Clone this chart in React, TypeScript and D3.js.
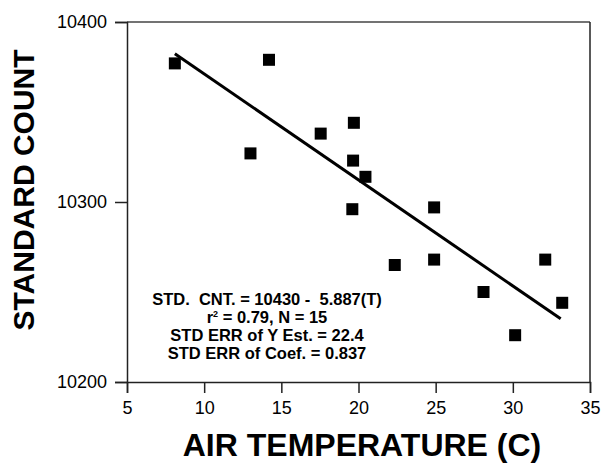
import React, { useEffect, useRef } from "react";
import * as d3 from "d3";

// air temperature (C) and standard count
const temps = [8.1, 13.0, 14.2, 17.55, 19.7, 19.65, 20.45, 19.6, 22.35, 24.9, 24.9, 28.1, 30.15, 32.1, 33.2];
const counts = [10377, 10327, 10379, 10338, 10344, 10323, 10314, 10296, 10265, 10297, 10268, 10250, 10226, 10268, 10244];

const fitIntercept = 10430;
const fitSlope = -5.887;
const fitRange = [8.1, 33.1];

const xTicks = [5, 10, 15, 20, 25, 30, 35];
const yTicks = [10200, 10300, 10400];

const statLines = [
  "STD.  CNT. = 10430 -  5.887(T)",
  "r2 = 0.79, N = 15",
  "STD ERR of Y Est. = 22.4",
  "STD ERR of Coef. = 0.837",
];

const font = "'Liberation Sans', Arial, sans-serif";

const Axis = ({ scale, orient, transform, ticks }: any) => {
  const ref = useRef<SVGGElement>(null);
  useEffect(() => {
    const gen =
      orient === "bottom"
        ? d3.axisBottom(scale).tickValues(ticks).tickFormat(d3.format("d")).tickSizeOuter(0).tickSize(11).tickPadding(8)
        : d3.axisLeft(scale).tickValues(ticks).tickFormat(d3.format("d")).tickSizeOuter(0).tickSize(12).tickPadding(8);
    const g = d3.select(ref.current).call(gen as any);
    g.select(".domain").attr("stroke-width", 1.5).attr("stroke", "#222");
    g.selectAll(".tick line").attr("stroke-width", 1.5).attr("stroke", "#222");
    g.selectAll(".tick text")
      .attr("font-family", font)
      .attr("font-size", 18)
      .attr("fill", "#000");
  }, [scale, orient]);
  return <g ref={ref} transform={transform} />;
};

export default function App() {
  const width = 601;
  const height = 466;
  const left = 127, right = 590, top = 22, bottom = 382;

  const x = d3.scaleLinear().domain([5, 35]).range([left, right]);
  const y = d3.scaleLinear().domain([10200, 10400]).range([bottom, top]);

  const pts = temps.map((t, i) => [t, counts[i]]);
  const fit = fitRange.map((t) => [t, fitIntercept + fitSlope * t]);
  const line = d3
    .line<number[]>()
    .x((d) => x(d[0]))
    .y((d) => y(d[1]));

  const sq = 12;
  const cx = 267;

  return (
    <svg
      width={width}
      height={height}
      style={{ position: "absolute", left: 0, top: 0, background: "#fff" }}
    >
      {/* frame */}
      <line x1={left} x2={right} y1={top} y2={top} stroke="#444" strokeWidth={1.5} />
      <line x1={right} x2={right} y1={top} y2={bottom} stroke="#222" strokeWidth={1.5} />
      <Axis scale={x} orient="bottom" ticks={xTicks} transform={`translate(0,${bottom})`} />
      <Axis scale={y} orient="left" ticks={yTicks} transform={`translate(${left},0)`} />

      <path d={line(fit) || ""} fill="none" stroke="#000" strokeWidth={3} />
      {pts.map((d, i) => (
        <rect key={i} x={x(d[0]) - sq / 2} y={y(d[1]) - sq / 2} width={sq} height={sq} fill="#000" />
      ))}

      <g fontFamily={font} fontWeight="bold" fontSize={16.5} textAnchor="middle" fill="#000">
        <text x={cx} y={305} style={{ whiteSpace: "pre" }}>{statLines[0]}</text>
        <text x={cx} y={323}>
          r<tspan fontSize={9} dy={-6}>2</tspan>
          <tspan dy={6}>{statLines[1].slice(2)}</tspan>
        </text>
        <text x={cx} y={341}>{statLines[2]}</text>
        <text x={cx} y={359}>{statLines[3]}</text>
      </g>

      <text
        x={362}
        y={456}
        textAnchor="middle"
        fontFamily={font}
        fontWeight="bold"
        fontSize={32}
      >
        AIR TEMPERATURE (C)
      </text>
      <text
        transform="translate(34,190) rotate(-90)"
        textAnchor="middle"
        fontFamily={font}
        fontWeight="bold"
        fontSize={30}
      >
        STANDARD COUNT
      </text>
    </svg>
  );
}
